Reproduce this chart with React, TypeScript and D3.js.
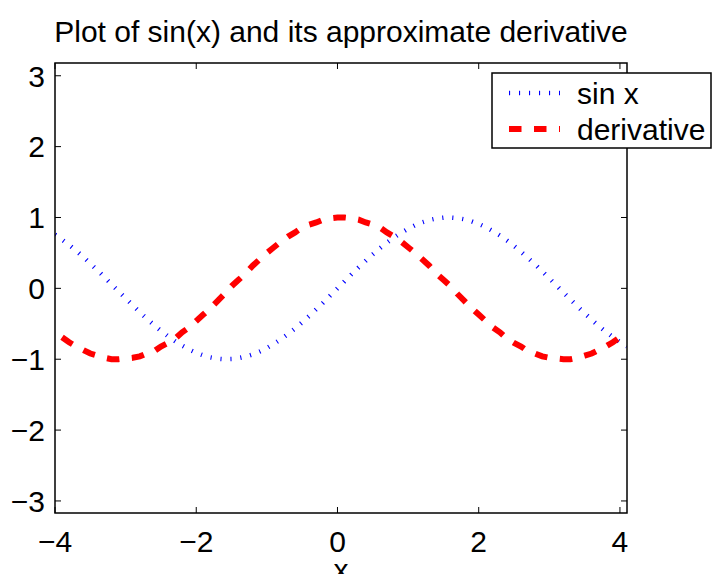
import { useEffect, useRef } from 'react';
import * as d3 from 'd3';

const xSin = [
  -4.0, -3.9, -3.8, -3.7, -3.6, -3.5, -3.4, -3.3, -3.2, -3.1, -3.0, -2.9, -2.8, -2.7,
  -2.6, -2.5, -2.4, -2.3, -2.2, -2.1, -2.0, -1.9, -1.8, -1.7, -1.6, -1.5, -1.4, -1.3,
  -1.2, -1.1, -1.0, -0.9, -0.8, -0.7, -0.6, -0.5, -0.4, -0.3, -0.2, -0.1, 0.0, 0.1,
  0.2, 0.3, 0.4, 0.5, 0.6, 0.7, 0.8, 0.9, 1.0, 1.1, 1.2, 1.3, 1.4, 1.5, 1.6, 1.7, 1.8,
  1.9, 2.0, 2.1, 2.2, 2.3, 2.4, 2.5, 2.6, 2.7, 2.8, 2.9, 3.0, 3.1, 3.2, 3.3, 3.4, 3.5,
  3.6, 3.7, 3.8, 3.9, 4.0, 4.1,
];
const sinValues = [
  0.757, 0.688, 0.612, 0.53, 0.443, 0.351, 0.256, 0.158, 0.058, -0.042, -0.141, -0.239,
  -0.335, -0.427, -0.516, -0.598, -0.675, -0.746, -0.808, -0.863, -0.909, -0.946, -0.974,
  -0.992, -1.0, -0.997, -0.985, -0.964, -0.932, -0.891, -0.841, -0.783, -0.717, -0.644,
  -0.565, -0.479, -0.389, -0.296, -0.199, -0.1, 0.0, 0.1, 0.199, 0.296, 0.389, 0.479,
  0.565, 0.644, 0.717, 0.783, 0.841, 0.891, 0.932, 0.964, 0.985, 0.997, 1.0, 0.992,
  0.974, 0.946, 0.909, 0.863, 0.808, 0.746, 0.675, 0.598, 0.516, 0.427, 0.335, 0.239,
  0.141, 0.042, -0.058, -0.158, -0.256, -0.351, -0.443, -0.53, -0.612, -0.688, -0.757,
  -0.818,
];
// derivative is plotted from the second sample on
const xDeriv = xSin.slice(1);
const derivValues = [
  -0.69, -0.76, -0.82, -0.87, -0.92, -0.95, -0.98, -1.0, -1.0, -0.99, -0.98, -0.96,
  -0.92, -0.89, -0.82, -0.77, -0.71, -0.62, -0.55, -0.46, -0.37, -0.28, -0.18, -0.08,
  0.03, 0.12, 0.21, 0.32, 0.41, 0.5, 0.58, 0.66, 0.73, 0.79, 0.86, 0.9, 0.93, 0.97, 0.99,
  1.0, 1.0, 0.99, 0.97, 0.93, 0.9, 0.86, 0.79, 0.73, 0.66, 0.58, 0.5, 0.41, 0.32, 0.21,
  0.12, 0.03, -0.08, -0.18, -0.28, -0.37, -0.46, -0.55, -0.62, -0.71, -0.77, -0.82,
  -0.89, -0.92, -0.96, -0.98, -0.99, -1.0, -1.0, -0.98, -0.95, -0.92, -0.87, -0.82,
  -0.76, -0.69, -0.61,
];
const xTicks = [-4, -2, 0, 2, 4];
const yTicks = [-3, -2, -1, 0, 1, 2, 3];
const legendLabels = ['sin x', 'derivative'];

const FONT = '"Liberation Sans", Arial, Helvetica, sans-serif';

export default function App() {
  const ref = useRef<SVGSVGElement>(null);

  useEffect(() => {
    const width = 715;
    const height = 574;
    const box = { left: 55, right: 627, top: 63, bottom: 513 };

    const svg = d3.select(ref.current);
    svg.selectAll('*').remove();
    svg.attr('width', width).attr('height', height);

    const x = d3.scaleLinear().domain([-4, 4.1]).range([box.left, box.right]);
    const y = d3.scaleLinear().domain([-3.17, 3.18]).range([box.bottom, box.top]);

    svg.append('defs').append('clipPath').attr('id', 'plot-clip')
      .append('rect')
      .attr('x', box.left).attr('y', box.top)
      .attr('width', box.right - box.left).attr('height', box.bottom - box.top);

    const plot = svg.append('g').attr('clip-path', 'url(#plot-clip)');

    const line = d3.line<[number, number]>()
      .x(d => x(d[0]))
      .y(d => y(d[1]));

    // matlab style line specs: ':' blue thin, '--' red wide
    const styles = [
      { color: '#0000ff', width: 4.5, dash: '1.1 8.9' },
      { color: '#ff0000', width: 6, dash: '12.5 12.5' },
    ];

    plot.append('path')
      .datum(xSin.map((v, i) => [v, sinValues[i]] as [number, number]))
      .attr('d', line)
      .attr('fill', 'none')
      .attr('stroke', styles[0].color)
      .attr('stroke-width', styles[0].width)
      .attr('stroke-dasharray', styles[0].dash);

    plot.append('path')
      .datum(xDeriv.map((v, i) => [v, derivValues[i]] as [number, number]))
      .attr('d', line)
      .attr('fill', 'none')
      .attr('stroke', styles[1].color)
      .attr('stroke-width', styles[1].width)
      .attr('stroke-dasharray', styles[1].dash);

    // axes box
    svg.append('rect')
      .attr('x', box.left).attr('y', box.top)
      .attr('width', box.right - box.left).attr('height', box.bottom - box.top)
      .attr('fill', 'none').attr('stroke', '#000').attr('stroke-width', 1.5);

    const tickLen = 6;
    const tickG = svg.append('g').attr('stroke', '#000').attr('stroke-width', 1);
    xTicks.forEach(t => {
      tickG.append('line').attr('x1', x(t)).attr('x2', x(t)).attr('y1', box.bottom).attr('y2', box.bottom - tickLen);
      tickG.append('line').attr('x1', x(t)).attr('x2', x(t)).attr('y1', box.top).attr('y2', box.top + tickLen);
    });
    yTicks.forEach(t => {
      tickG.append('line').attr('x1', box.left).attr('x2', box.left + tickLen).attr('y1', y(t)).attr('y2', y(t));
      tickG.append('line').attr('x1', box.right).attr('x2', box.right - tickLen).attr('y1', y(t)).attr('y2', y(t));
    });

    const fmt = d3.format('');
    svg.append('g')
      .selectAll('text')
      .data(xTicks)
      .join('text')
      .attr('x', d => x(d))
      .attr('y', 552)
      .attr('text-anchor', 'middle')
      .attr('font-family', FONT)
      .attr('font-size', 30)
      .text(d => fmt(d));

    svg.append('g')
      .selectAll('text')
      .data(yTicks)
      .join('text')
      .attr('x', 45)
      .attr('y', d => y(d))
      .attr('dy', '0.36em')
      .attr('text-anchor', 'end')
      .attr('font-family', FONT)
      .attr('font-size', 30)
      .text(d => fmt(d));

    svg.append('text')
      .attr('x', (box.left + box.right) / 2)
      .attr('y', 42)
      .attr('text-anchor', 'middle')
      .attr('font-family', FONT)
      .attr('font-size', 30)
      .text('Plot of sin(x) and its approximate derivative');

    svg.append('text')
      .attr('x', (box.left + box.right) / 2)
      .attr('y', 580)
      .attr('text-anchor', 'middle')
      .attr('font-family', FONT)
      .attr('font-size', 30)
      .text('x');

    // legend
    const legend = svg.append('g');
    legend.append('rect')
      .attr('x', 492).attr('y', 73)
      .attr('width', 219).attr('height', 75)
      .attr('fill', '#fff').attr('stroke', '#000').attr('stroke-width', 1.5);

    legendLabels.forEach((label, i) => {
      const ly = 93 + i * 36;
      legend.append('line')
        .attr('x1', 509).attr('x2', 560).attr('y1', ly).attr('y2', ly)
        .attr('stroke', styles[i].color)
        .attr('stroke-width', styles[i].width)
        .attr('stroke-dasharray', styles[i].dash);
      legend.append('text')
        .attr('x', 577).attr('y', ly)
        .attr('dy', '0.36em')
        .attr('font-family', FONT)
        .attr('font-size', 30)
        .text(label);
    });
  }, []);

  return (
    <svg ref={ref} style={{ position: 'absolute', left: 0, top: 0, display: 'block' }} />
  );
}
